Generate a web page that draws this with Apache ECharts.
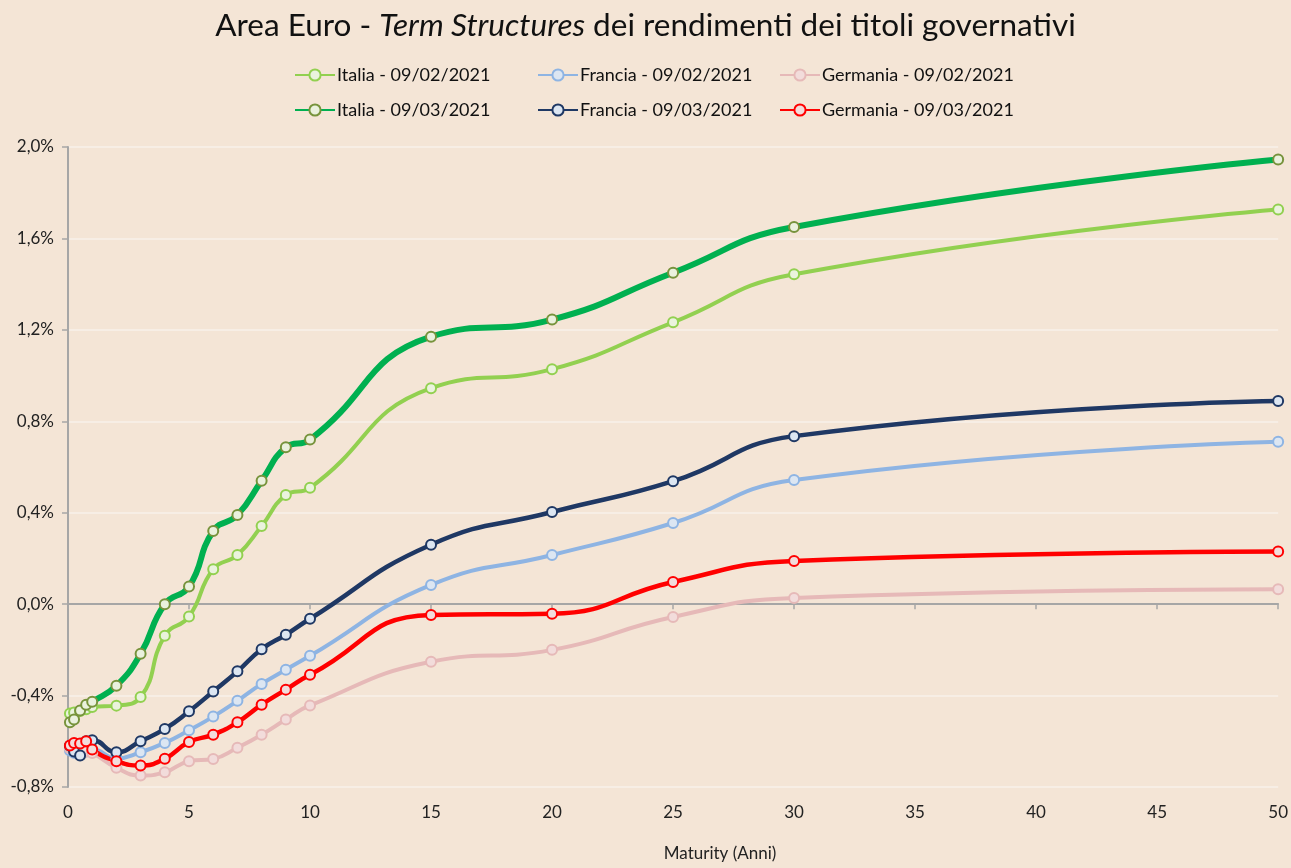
<!DOCTYPE html>
<html>
<head>
<meta charset="utf-8">
<script src="https://cdn.jsdelivr.net/npm/echarts@6/dist/echarts.min.js"></script>
<style>
html, body { margin: 0; padding: 0; background: #F4E5D6; }
#main { width: 1291px; height: 868px; }
</style>
</head>
<body>
<div id="main"></div>
<script>
'use strict';

// scadenze in anni
var maturities = [0.08, 0.25, 0.5, 0.75, 1, 2, 3, 4, 5, 6, 7, 8, 9, 10, 15, 20, 25, 30, 50];

// rendimenti in %
var italia0902 = [-0.478, -0.474, -0.468, -0.46, -0.45, -0.444, -0.406, -0.138, -0.054, 0.153, 0.215, 0.342, 0.477, 0.509, 0.945, 1.028, 1.233, 1.443, 1.727];
var francia0902 = [-0.64, -0.65, -0.655, -0.645, -0.635, -0.675, -0.648, -0.607, -0.552, -0.492, -0.423, -0.349, -0.287, -0.226, 0.084, 0.215, 0.355, 0.543, 0.71];
var germania0902 = [-0.63, -0.635, -0.64, -0.645, -0.651, -0.716, -0.75, -0.735, -0.687, -0.677, -0.628, -0.571, -0.505, -0.443, -0.252, -0.2, -0.056, 0.027, 0.065];
var italia0903 = [-0.517, -0.505, -0.465, -0.44, -0.427, -0.357, -0.217, 0.0, 0.077, 0.32, 0.39, 0.54, 0.686, 0.72, 1.17, 1.245, 1.45, 1.65, 1.945];
var francia0903 = [-0.62, -0.645, -0.662, -0.6, -0.595, -0.648, -0.6, -0.546, -0.469, -0.382, -0.294, -0.197, -0.134, -0.064, 0.26, 0.403, 0.538, 0.735, 0.889];
var germania0903 = [-0.618, -0.607, -0.61, -0.6, -0.636, -0.687, -0.706, -0.676, -0.603, -0.571, -0.517, -0.44, -0.374, -0.309, -0.047, -0.042, 0.097, 0.189, 0.23];

var seriesNames = [
    'Italia - 09/02/2021', 'Francia - 09/02/2021', 'Germania - 09/02/2021',
    'Italia - 09/03/2021', 'Francia - 09/03/2021', 'Germania - 09/03/2021'
];

var fontName = 'Lato, "Open Sans", sans-serif';

function pairs(values) {
    var out = [];
    for (var i = 0; i < maturities.length; i++) {
        out.push([maturities[i], values[i]]);
    }
    return out;
}

function makeSeries(name, values, lineColor, lineWidth, fill, border) {
    return {
        name: name,
        type: 'line',
        xAxisIndex: 0,
        data: pairs(values),
        smooth: 0.5,
        symbol: 'circle',
        symbolSize: 10,
        lineStyle: { color: lineColor, width: lineWidth },
        itemStyle: { color: fill, borderColor: border, borderWidth: 2 },
        emphasis: { disabled: true }
    };
}

// una colonna della legenda per paese
function legendColumn(left, names) {
    return {
        orient: 'vertical',
        left: left,
        top: 66,
        padding: 0,
        itemWidth: 40,
        itemHeight: 14,
        itemGap: 17,
        textStyle: { fontFamily: fontName, fontSize: 18, color: '#111', padding: [0, 0, 0, -3] },
        data: names
    };
}

window.onload = function() {
    var myChart = echarts.init(document.getElementById('main'));

    var option = {
        backgroundColor: '#F4E5D6',
        animation: false,
        title: {
            left: 'center',
            top: 5,
            text: '{a|Area Euro - }{b|Term Structures}{a| dei rendimenti dei titoli governativi}',
            textStyle: {
                rich: {
                    a: { fontFamily: fontName, fontSize: 31.5, fontWeight: 'normal', color: '#111' },
                    b: { fontFamily: fontName, fontSize: 31.5, fontWeight: 'normal', color: '#111', fontStyle: 'italic' }
                }
            }
        },
        legend: [
            legendColumn(294, [seriesNames[0], seriesNames[3]]),
            legendColumn(537, [seriesNames[1], seriesNames[4]]),
            legendColumn(779, [seriesNames[2], seriesNames[5]])
        ],
        grid: { left: 68, right: 11, top: 147, bottom: 81, containLabel: false },
        xAxis: [{
            type: 'value',
            min: 0,
            max: 50,
            interval: 5,
            position: 'bottom',
            axisLine: { show: false, onZero: false },
            axisTick: { show: false },
            splitLine: { show: false },
            axisLabel: { fontFamily: fontName, fontSize: 17, color: '#222', margin: 17 },
            name: 'Maturity (Anni)',
            nameLocation: 'middle',
            nameGap: 58,
            nameTextStyle: { fontFamily: fontName, fontSize: 17, color: '#222', padding: [0, 0, 0, 94] }
        }, {
            type: 'value',
            min: 0,
            max: 50,
            interval: 5,
            position: 'bottom',
            axisLine: { show: true, onZero: true, lineStyle: { color: '#A6A6A6', width: 2 } },
            axisTick: { show: true, length: 5, lineStyle: { color: '#A6A6A6', width: 1.5 } },
            axisLabel: { show: false },
            splitLine: { show: false }
        }],
        yAxis: {
            type: 'value',
            min: -0.8,
            max: 2.0,
            interval: 0.4,
            axisLine: { show: true, lineStyle: { color: '#A6A6A6', width: 2 } },
            axisTick: { show: true, length: 6, lineStyle: { color: '#A6A6A6', width: 1.5 } },
            splitLine: { show: true, lineStyle: { color: '#F8F1EA', width: 1.5 } },
            axisLabel: {
                fontFamily: fontName,
                fontSize: 17,
                color: '#222',
                margin: 14,
                formatter: function(v) {
                    return v.toFixed(1).replace('.', ',') + '%';
                }
            }
        },
        series: [
            makeSeries(seriesNames[0], italia0902, '#92D050', 4, '#EAF3DD', '#92D050'),
            makeSeries(seriesNames[1], francia0902, '#8EB4E3', 4, '#DCE6F2', '#8EB4E3'),
            makeSeries(seriesNames[2], germania0902, '#E6B9B8', 4, '#F2DCDB', '#E6B9B8'),
            makeSeries(seriesNames[3], italia0903, '#00B050', 6, '#EAF1DD', '#77933C'),
            makeSeries(seriesNames[4], francia0903, '#1F3864', 4.5, '#DCE6F2', '#1F3864'),
            makeSeries(seriesNames[5], germania0903, '#FF0000', 4.5, '#F2DCDB', '#FF0000')
        ]
    };

    myChart.setOption(option);
};
</script>
</body>
</html>
